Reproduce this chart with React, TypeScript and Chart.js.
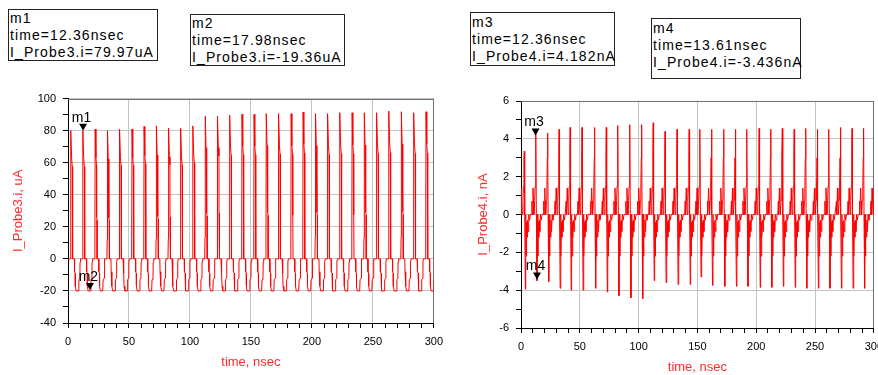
import React, { useEffect, useRef } from 'react';
import { Chart, registerables } from 'chart.js';
Chart.register(...registerables);

const FONT = '"Liberation Sans", Arial, Helvetica, sans-serif';
const RED = '#ff0000';
const TITLE_RED = '#ff2a2a';
const GRID = '#c4c4c4';

// ---------- Left chart: I_Probe3.i (uA) ----------
const leftSpikeTimes = [2.4, 12.3, 22.3, 32.4, 42.4, 52.5, 62.4, 72.5, 82.5, 92.5, 102.5, 112.6, 122.7, 132.7, 142.7, 152.6, 162.6, 172.8, 183.0, 192.8, 203.0, 213.0, 223.0, 233.0, 243.0, 253.2, 263.2, 273.4, 283.6, 293.6];
const leftPeaks = [80, 80, 81, 80, 81, 81, 82.6, 83, 81.6, 81.4, 83, 89, 89, 89.6, 90.2, 90.2, 90.6, 90.6, 90.6, 91.6, 90.6, 90.6, 91.2, 91.2, 91.2, 91.2, 92.2, 91.8, 91.2, 91.8];
// one pulse: [time offset ns, level uA, share of the peak]
const leftPulseShape: [number, number, number][] = [
  [-0.5, 0, 0], [-0.25, 0, 0.15], [0, 0, 1], [0.6, 0, 0.78], [1.1, 0, 0.72], [1.15, 0, 0.32],
  [1.5, 0, 0.3], [1.55, 0, 0], [2.8, 0, 0], [3.0, -8, 0], [3.5, -9, 0], [3.6, -17, 0],
  [4.2, -20, 0], [6.2, -20, 0], [6.5, -13, 0], [7.3, -12, 0], [7.5, -2, 0], [7.9, 0, 0],
];
const leftXTicks = [0, 50, 100, 150, 200, 250, 300];
const leftYTicks = [-40, -20, 0, 20, 40, 60, 80, 100];

// ---------- Right chart: I_Probe4.i (nA) ----------
const rightSpikeTimes = [2.8, 12.7, 22.7, 32.4, 41.8, 51.9, 62.6, 72.5, 82.4, 92.6, 102.6, 112.4, 122.5, 132.7, 143.0, 152.2, 162.0, 172.4, 182.3, 192.1, 202.5, 212.4, 222.2, 232.3, 242.1, 252.0, 261.8, 271.6, 281.5, 291.3, 301.0];
const rightPeaks = [3.35, 4.4, 4.3, 4.5, 4.6, 4.6, 4.6, 4.6, 4.7, 4.75, 4.75, 4.85, 4.4, 4.5, 4.5, 4.5, 4.5, 4.5, 4.5, 4.5, 4.55, 4.5, 4.55, 4.5, 4.55, 4.5, 4.5, 4.6, 4.55, 4.55, 4.5];
const rightDips = [-3.95, -3.5, -3.55, -3.9, -4.0, -4.0, -3.9, -4.1, -4.3, -4.4, -4.45, -3.5, -3.6, -3.7, -3.7, -3.3, -3.75, -3.8, -3.8, -3.8, -3.85, -3.85, -3.8, -3.85, -3.9, -3.9, -3.9, -3.9, -3.9, -3.9, -3.9];
// one pulse: [time offset ns, level nA, share of peak, share of dip]
const rightPulseShape: [number, number, number, number][] = [
  [-3.8, 0, 0, 0], [-3.4, 0.7, 0, 0], [-3.1, 0, 0, 0], [-2.5, 1.4, 0, 0], [-2.1, 0.7, 0, 0],
  [-1.7, 0, 0, 0], [-1.1, 0.75, 0, 0], [-0.7, 1.5, 0, 0], [-0.3, 3.0, 0, 0], [0, 0, 1, 0],
  [0.35, 0, 0, 0], [0.9, 0, 0, 1], [1.25, 0, 0, 0], [1.6, -2.2, 0, 0], [1.95, -0.4, 0, 0],
  [2.4, -1.2, 0, 0], [2.8, -0.3, 0, 0], [3.3, -0.9, 0, 0], [3.8, 0, 0, 0], [4.5, -0.3, 0, 0],
  [5.2, 0, 0, 0],
];
const rightXTicks = [0, 50, 100, 150, 200, 250, 300];
const rightYTicks = [-6, -4, -2, 0, 2, 4, 6];

// ---------- Markers ----------
const leftMarkerNames = ['m1', 'm2'];
const leftMarkerTimes = [12.36, 17.98];
const leftMarkerValues = [79.97, -19.36];
const rightMarkerNames = ['m3', 'm4'];
const rightMarkerTimes = [12.36, 13.61];
const rightMarkerValues = [4.182, -3.436];

function buildLeft() {
  const pts: { x: number; y: number }[] = [{ x: 0, y: 0 }];
  leftSpikeTimes.forEach((t, i) => {
    leftPulseShape.forEach(([dt, lvl, pk]) => pts.push({ x: t + dt, y: lvl + pk * leftPeaks[i] }));
  });
  return pts;
}
function buildRight() {
  const pts: { x: number; y: number }[] = [{ x: 0, y: 0 }];
  rightSpikeTimes.forEach((t, i) => {
    rightPulseShape.forEach(([dt, lvl, pk, dp]) =>
      pts.push({ x: t + dt, y: lvl + pk * rightPeaks[i] + dp * rightDips[i] }));
  });
  return pts.filter((p) => p.x >= 0);
}

const markerPlugin = {
  id: 'markers',
  beforeDatasetsDraw(chart: any) {
    const { ctx, chartArea: a } = chart;
    ctx.save();
    ctx.strokeStyle = '#707070';
    ctx.lineWidth = 1;
    ctx.beginPath();
    ctx.moveTo(a.left, Math.round(a.top) + 0.5);
    ctx.lineTo(a.right, Math.round(a.top) + 0.5);
    ctx.moveTo(Math.round(a.right) - 0.5, a.top);
    ctx.lineTo(Math.round(a.right) - 0.5, a.bottom);
    ctx.stroke();
    ctx.restore();
  },
  afterDatasetsDraw(chart: any, _args: any, opts: any) {
    const { ctx, scales } = chart;
    const items = opts.items || [];
    ctx.save();
    items.forEach((m: any) => {
      const px = scales.x.getPixelForValue(m.x);
      const py = scales.y.getPixelForValue(m.y);
      ctx.fillStyle = '#000';
      ctx.beginPath();
      ctx.moveTo(px - 4, py - 7);
      ctx.lineTo(px + 4, py - 7);
      ctx.lineTo(px, py);
      ctx.closePath();
      ctx.fill();
      ctx.font = `14px ${FONT}`;
      ctx.textAlign = 'center';
      ctx.textBaseline = 'alphabetic';
      ctx.fillText(m.name, px - 1.5, py - 9);
    });
    ctx.restore();
  },
};

type Cfg = {
  data: { x: number; y: number }[];
  xTicks: number[];
  yTicks: number[];
  yMin: number; yMax: number; yStep: number;
  yTitle: string;
  yWidth: number; xHeight: number;
  padding: { left: number; right: number; top: number; bottom: number };
  yTitlePad: number; xTitlePad: number;
  markers: { name: string; x: number; y: number }[];
};

function makeChart(canvas: HTMLCanvasElement, c: Cfg) {
  return new Chart(canvas, {
    type: 'line',
    data: {
      datasets: [{
        data: c.data,
        borderColor: RED,
        borderWidth: 1,
        pointRadius: 0,
        tension: 0,
        fill: false,
      }],
    },
    options: {
      animation: false,
      responsive: false,
      devicePixelRatio: 1,
      layout: { padding: c.padding },
      plugins: {
        legend: { display: false },
        tooltip: { enabled: false },
        markers: { items: c.markers },
      } as any,
      scales: {
        x: {
          type: 'linear',
          min: 0, max: 300,
          afterFit: (s: any) => { s.height = c.xHeight; },
          ticks: {
            stepSize: 10,
            autoSkip: false,
            maxRotation: 0,
            padding: 7,
            color: '#000',
            font: { family: FONT, size: 11 },
            callback: (v: any) => (c.xTicks.includes(Number(v)) ? String(v) : ''),
          },
          grid: {
            color: (ctx: any) => (ctx.tick && c.xTicks.includes(Math.round(ctx.tick.value)) ? GRID : 'rgba(0,0,0,0)'),
            tickColor: '#000',
            tickLength: 5,
            tickWidth: 1,
          },
          border: { color: '#000', width: 1 },
          title: {
            display: true,
            text: 'time, nsec',
            color: TITLE_RED,
            font: { family: FONT, size: 13 },
            padding: { top: 0, bottom: c.xTitlePad },
          },
        },
        y: {
          type: 'linear',
          min: c.yMin, max: c.yMax,
          afterFit: (s: any) => { s.width = c.yWidth; },
          ticks: {
            stepSize: c.yStep,
            autoSkip: false,
            padding: 7,
            color: '#000',
            font: { family: FONT, size: 11 },
            callback: (v: any) => (c.yTicks.includes(Number(v)) ? String(v) : ''),
          },
          grid: {
            color: (ctx: any) => (ctx.tick && c.yTicks.includes(Math.round(ctx.tick.value * 1000) / 1000) ? GRID : 'rgba(0,0,0,0)'),
            tickColor: '#000',
            tickLength: 5,
            tickWidth: 1,
          },
          border: { color: '#000', width: 1 },
          title: {
            display: true,
            text: c.yTitle,
            color: TITLE_RED,
            font: { family: FONT, size: 13 },
            padding: { top: c.yTitlePad, bottom: 0 },
          },
        },
      },
    } as any,
    plugins: [markerPlugin],
  });
}

const boxStyle = (left: number, top: number, width: number, height: number, padTop = 0): React.CSSProperties => ({
  position: 'absolute',
  left, top, width, height,
  boxSizing: 'border-box',
  border: '1px solid #222',
  padding: `${padTop}px 0 0 1px`,
  font: `14px ${FONT}`,
  lineHeight: '17px',
  letterSpacing: '1.1px',
  color: '#000',
  whiteSpace: 'nowrap',
  background: '#fff',
});

export default function App() {
  const leftRef = useRef<HTMLCanvasElement>(null);
  const rightRef = useRef<HTMLCanvasElement>(null);

  useEffect(() => {
    const l = makeChart(leftRef.current!, {
      data: buildLeft(),
      xTicks: leftXTicks, yTicks: leftYTicks,
      yMin: -40, yMax: 100, yStep: 10,
      yTitle: 'I_Probe3.i, uA',
      yWidth: 68, xHeight: 52,
      padding: { left: 0, right: 15, top: 12, bottom: 0 },
      yTitlePad: 10.2, xTitlePad: 5.2,
      markers: leftMarkerNames.map((n, i) => ({ name: n, x: leftMarkerTimes[i], y: leftMarkerValues[i] })),
    });
    const r = makeChart(rightRef.current!, {
      data: buildRight(),
      xTicks: rightXTicks, yTicks: rightYTicks,
      yMin: -6, yMax: 6, yStep: 1,
      yTitle: 'I_Probe4.i, nA',
      yWidth: 76, xHeight: 47,
      padding: { left: 0, right: 14.5, top: 16, bottom: 0 },
      yTitlePad: 31, xTitlePad: 0,
      markers: rightMarkerNames.map((n, i) => ({ name: n, x: rightMarkerTimes[i], y: rightMarkerValues[i] })),
    });
    return () => { l.destroy(); r.destroy(); };
  }, []);

  return (
    <div style={{ position: 'fixed', left: 0, top: 0, width: 878, height: 375, overflow: 'hidden', background: '#fff' }}>
      <canvas ref={leftRef} width={450} height={290} style={{ position: 'absolute', left: 0, top: 85, width: 450, height: 290 }} />
      <canvas ref={rightRef} width={445} height={290} style={{ position: 'absolute', left: 445, top: 85, width: 445, height: 290 }} />
      <div style={boxStyle(8, 9, 150, 52)}>
        <div>{leftMarkerNames[0]}</div>
        <div>{`time=${leftMarkerTimes[0].toFixed(2)}nsec`}</div>
        <div>{`I_Probe3.i=${leftMarkerValues[0].toFixed(2)}uA`}</div>
      </div>
      <div style={boxStyle(190, 14, 155, 52)}>
        <div>{leftMarkerNames[1]}</div>
        <div>{`time=${leftMarkerTimes[1].toFixed(2)}nsec`}</div>
        <div>{`I_Probe3.i=${leftMarkerValues[1].toFixed(2)}uA`}</div>
      </div>
      <div style={boxStyle(470, 12, 145, 54, 1)}>
        <div>{rightMarkerNames[0]}</div>
        <div>{`time=${rightMarkerTimes[0].toFixed(2)}nsec`}</div>
        <div>{`I_Probe4.i=${rightMarkerValues[0].toFixed(3)}nA`}</div>
      </div>
      <div style={boxStyle(651, 18, 150, 61, 1)}>
        <div>{rightMarkerNames[1]}</div>
        <div>{`time=${rightMarkerTimes[1].toFixed(2)}nsec`}</div>
        <div>{`I_Probe4.i=${rightMarkerValues[1].toFixed(3)}nA`}</div>
      </div>
    </div>
  );
}
